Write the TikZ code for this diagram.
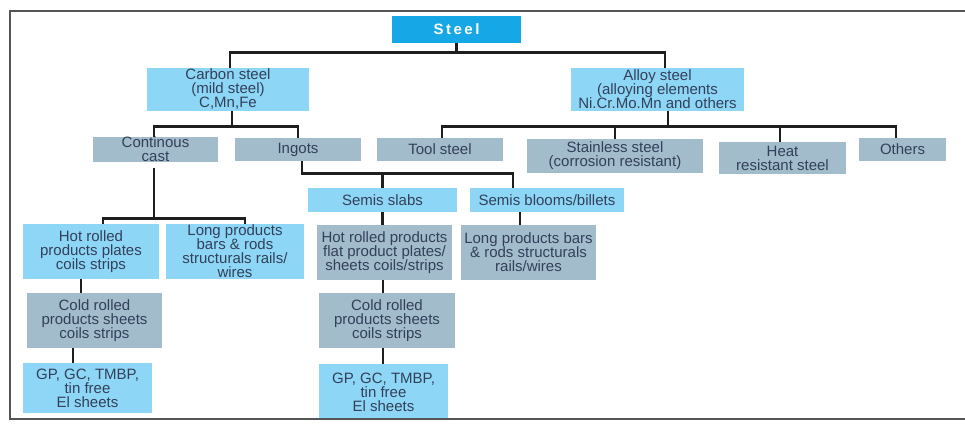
\documentclass[tikz,border=0pt]{standalone}
\usepackage{fontspec}
\setmainfont{Liberation Sans}
\definecolor{lblue}{HTML}{8DD6F5}
\definecolor{gblue}{HTML}{A2BCCB}
\definecolor{sblue}{HTML}{16A8E6}
\definecolor{txt}{HTML}{33405A}
\definecolor{lin}{HTML}{1E1E1E}
\definecolor{frm}{HTML}{555555}
\tikzset{
  bx/.style args={#1/#2/#3}{draw=none, fill=#1, minimum width=#2pt, minimum height=#3pt,
    inner sep=0pt, align=center, text=txt,
    font=\fontsize{15}{14}\selectfont},
  lb/.style={bx=lblue/#1},
  gb/.style={bx=gblue/#1},
  conn/.style={draw=lin, line width=2.8pt},
  frame/.style={draw=frm, line width=1.8pt}
}
\begin{document}
\begin{tikzpicture}[x=1pt,y=-1pt]
\useasboundingbox (0,0) rectangle (965,426);
% nodes
\node[bx=sblue/129/27, text=white, font=\bfseries\fontsize{15}{15}\selectfont] (steel) at (456.5,29.5) {S\,t\,e\,e\,l};
\node[lb=162/43] (carbon) at (228,89.5) {Carbon steel\\(mild steel)\\C,Mn,Fe};
\node[lb=173/43] (alloy) at (657.5,89.5) {Alloy steel\\(alloying elements\\Ni.Cr.Mo.Mn and others};
\node[gb=125/23] (cont) at (155.5,149.5) {Continous\\cast};
\node[gb=126/23] (ingots) at (298,149.5) {Ingots};
\node[gb=126/23] (tool) at (440,149.5) {Tool steel};
\node[gb=176/34] (stain) at (615,156) {Stainless steel\\(corrosion resistant)};
\node[gb=127/32] (heat) at (782.5,158) {Heat\\resistant steel};
\node[gb=87/23] (others) at (902.5,149.5) {Others};
\node[lb=149/24] (slabs) at (382.5,200) {Semis slabs};
\node[lb=154/24] (blooms) at (547,200) {Semis blooms/billets};
\node[lb=136/55] (hotL) at (91,251.5) {Hot rolled\\products plates\\coils strips};
\node[lb=138/55] (longL) at (235,251.5) {Long products\\bars \& rods\\structurals rails/\\wires};
\node[gb=135/55] (coldL) at (94.5,320.5) {Cold rolled\\products sheets\\coils strips};
\node[lb=129/50] (gpL) at (87.5,388) {GP, GC, TMBP,\\tin free\\El sheets};
\node[gb=135/55] (hotM) at (384.5,252.5) {Hot rolled products\\flat product plates/\\sheets coils/strips};
\node[gb=135/55] (longM) at (528.5,252.5) {Long products bars\\\& rods structurals\\rails/wires};
\node[gb=136/55] (coldM) at (387,320.5) {Cold rolled\\products sheets\\coils strips};
\node[lb=129/56] (gpM) at (383.5,392) {GP, GC, TMBP,\\tin free\\El sheets};
% connectors
\draw[conn] (steel.south) -- ++(0,9) coordinate (b1);
\draw[conn] ([xshift=2pt]carbon.north) |- (b1) -| ([xshift=7.5pt]alloy.north);
\draw[conn] ([xshift=4pt]carbon.south) -- ++(0,15) coordinate (b2);
\draw[conn] ([xshift=-1.5pt]cont.north) |- (b2) -| (ingots.north);
\draw[conn] ([xshift=10.5pt]alloy.south) -- ++(0,15) coordinate (b3);
\draw[conn] ([xshift=2pt]tool.north) |- (b3) -| ([xshift=-6.5pt]others.north);
\draw[conn] (stain.north) -- (stain.north |- b3);
\draw[conn] ([xshift=-2.5pt]heat.north) -- ([xshift=-2.5pt]heat.north |- b3);
\draw[conn] ([xshift=4pt]ingots.south) -- ++(0,12) coordinate (b4) -| ([xshift=-34pt]blooms.north);
\draw[conn] (slabs.north) -- (slabs.north |- b4);
\draw[conn] ([xshift=-1.5pt,yshift=-6pt]cont.south) -- ++(0,50) coordinate (b5);
\draw[conn] ([xshift=12pt]hotL.north) |- (b5) -| ([xshift=10pt]longL.north);
\draw[conn] ([xshift=-10pt]hotL.south) -- ([xshift=-10pt]hotL.south |- coldL.north);
\draw[conn] ([xshift=-21.5pt]coldL.south) -- ([xshift=-21.5pt]coldL.south |- gpL.north);
\draw[conn] (slabs.south) -- (slabs.south |- hotM.north);
\draw[conn] ([xshift=-27pt]blooms.south) -- ([xshift=-27pt]blooms.south |- longM.north);
\draw[conn] ([xshift=-1.5pt]hotM.south) -- ([xshift=-1.5pt]hotM.south |- coldM.north);
\draw[conn] ([xshift=-4pt]coldM.south) -- ([xshift=-4pt]coldM.south |- gpM.north);
% frame
\draw[frame] (965,11) -- (10,11) -- (10,419) -- (965,419);
\end{tikzpicture}
\end{document}
